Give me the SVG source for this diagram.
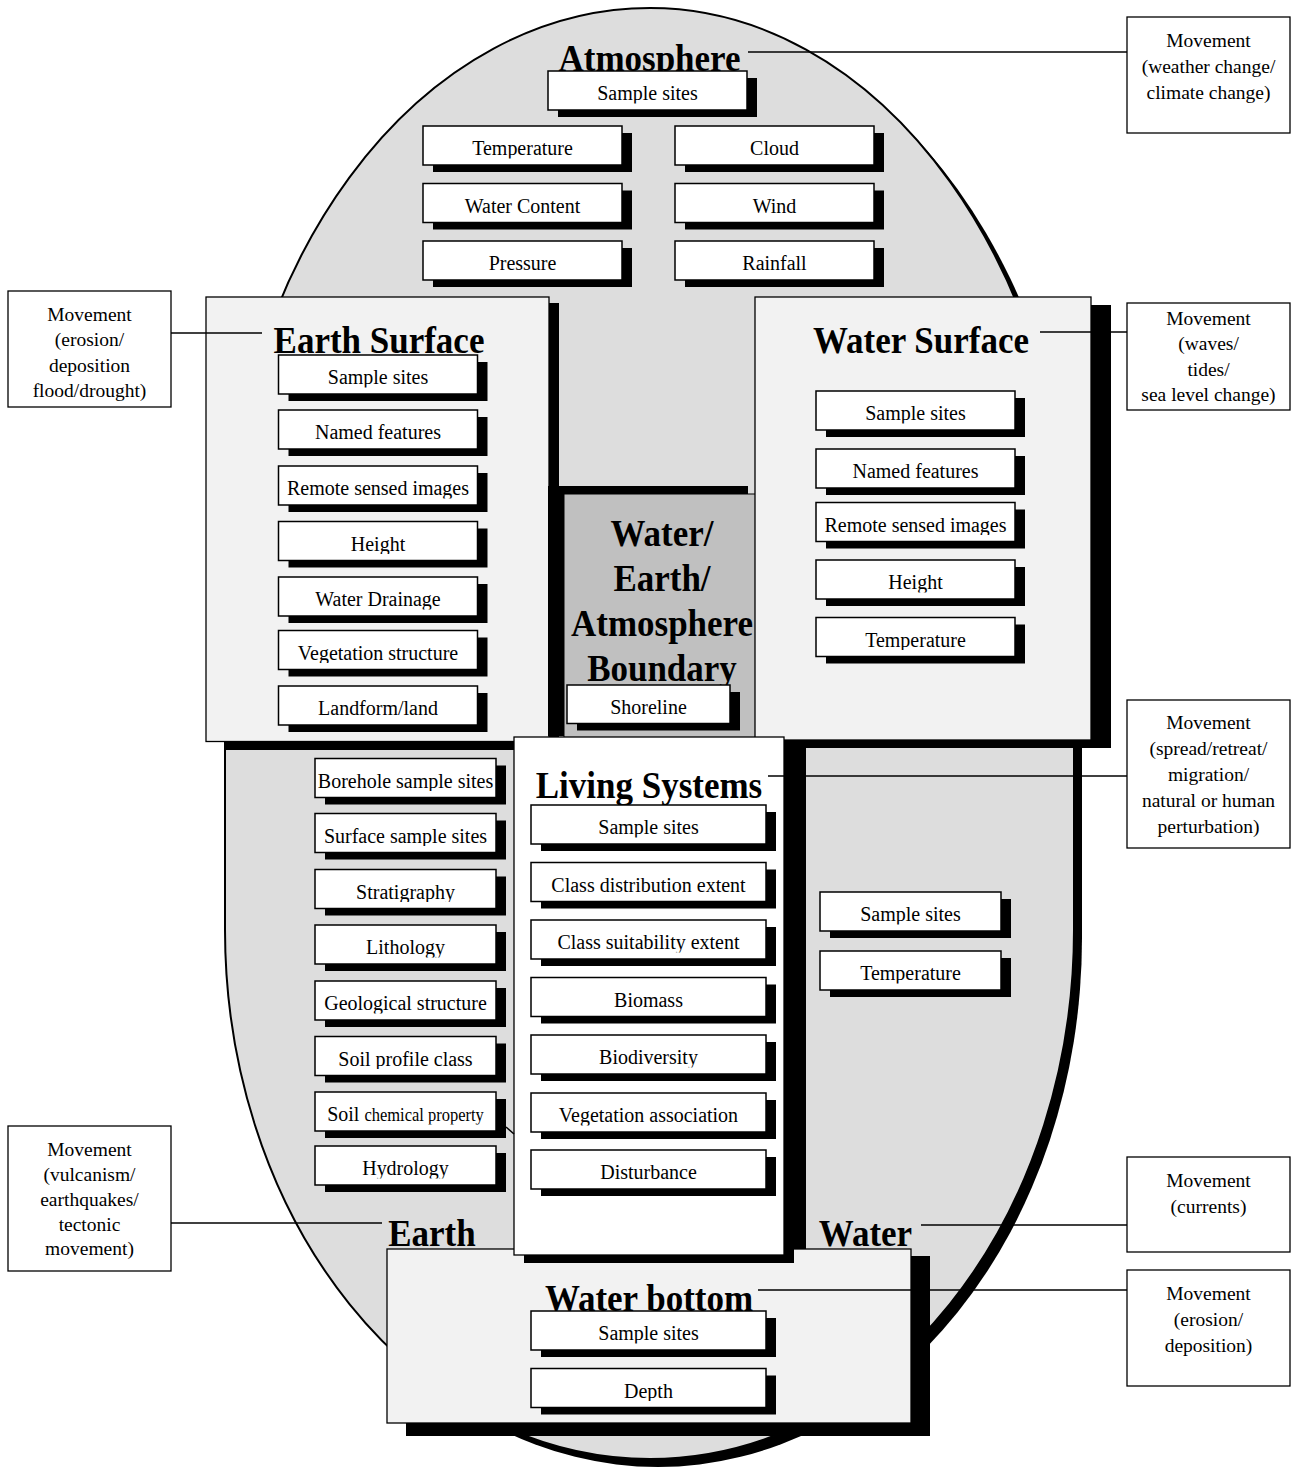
<svg xmlns="http://www.w3.org/2000/svg" xmlns:xlink="http://www.w3.org/1999/xlink" width="1292" height="1472" viewBox="0 0 1292 1472">
<style>
.sh{fill:#000}
.bx{fill:#fff;stroke:#000;stroke-width:1.5}
.pn{fill:#f2f2f2;stroke:#000;stroke-width:1.3}
.mb{fill:#fff;stroke:#000;stroke-width:1.3}
.it{font-family:"Liberation Serif","Times New Roman",serif;font-size:20px;text-anchor:middle;fill:#000;clip-path:url(#cl);transform-box:fill-box;transform-origin:center;transform:translateY(-1.5px) scaleY(1.08)}
.ttl{font-family:"Liberation Serif","Times New Roman",serif;font-weight:bold;font-size:35px;text-anchor:middle;fill:#000;transform-box:fill-box;transform-origin:center;transform:scaleY(1.08)}
.mv{font-family:"Liberation Serif","Times New Roman",serif;font-size:19.5px;text-anchor:middle;fill:#000}
.cn{stroke:#000;stroke-width:1.5;fill:none}
</style>
<defs>
<clipPath id="cl" clipPathUnits="objectBoundingBox"><rect x="-0.2" y="-0.5" width="1.4" height="1.43"/></clipPath>
<path id="ell" d="M650,8 A425,578 0 0 0 225,586 L225,930 A425,529 0 0 0 650,1459 A424,529 0 0 0 1074,930 L1074,600 A424,592 0 0 0 650,8 Z"/>
</defs>

<g id="sphere">
<use xlink:href="#ell" href="#ell" transform="translate(8,8)" fill="#000"/>
<use xlink:href="#ell" href="#ell" fill="#dddddd" stroke="#000" stroke-width="2"/>
<rect x="785" y="740" width="21" height="510" fill="#000"/>
</g>

<g id="atmosphere">
<text class="ttl" x="649.5" y="70">Atmosphere</text>
</g>
<g id="atm-sample"><rect class="sh" x="558" y="78" width="199" height="39"/><rect class="bx" x="548" y="71" width="199" height="39"/><text class="it" x="647.5" y="101">Sample sites</text></g>
<g id="atm-temp"><rect class="sh" x="433" y="133" width="199" height="39"/><rect class="bx" x="423" y="126" width="199" height="39"/><text class="it" x="522.5" y="156">Temperature</text></g>
<g id="atm-cloud"><rect class="sh" x="685" y="133" width="199" height="39"/><rect class="bx" x="675" y="126" width="199" height="39"/><text class="it" x="774.5" y="156">Cloud</text></g>
<g id="atm-water"><rect class="sh" x="433" y="190.5" width="199" height="39"/><rect class="bx" x="423" y="183.5" width="199" height="39"/><text class="it" x="522.5" y="213.5">Water Content</text></g>
<g id="atm-wind"><rect class="sh" x="685" y="190.5" width="199" height="39"/><rect class="bx" x="675" y="183.5" width="199" height="39"/><text class="it" x="774.5" y="213.5">Wind</text></g>
<g id="atm-press"><rect class="sh" x="433" y="248" width="199" height="39"/><rect class="bx" x="423" y="241" width="199" height="39"/><text class="it" x="522.5" y="271">Pressure</text></g>
<g id="atm-rain"><rect class="sh" x="685" y="248" width="199" height="39"/><rect class="bx" x="675" y="241" width="199" height="39"/><text class="it" x="774.5" y="271">Rainfall</text></g>

<g id="earth-surface">
<rect class="sh" x="224" y="303" width="335" height="447"/>
<rect class="pn" x="206" y="297" width="343" height="444.5"/>
<text class="ttl" x="379" y="352">Earth Surface</text>
</g>
<g id="es-sample"><rect class="sh" x="288.5" y="362" width="199" height="39"/><rect class="bx" x="278.5" y="355" width="199" height="39"/><text class="it" x="378" y="385">Sample sites</text></g>
<g id="es-named"><rect class="sh" x="288.5" y="417" width="199" height="39"/><rect class="bx" x="278.5" y="410" width="199" height="39"/><text class="it" x="378" y="440">Named features</text></g>
<g id="es-remote"><rect class="sh" x="288.5" y="473" width="199" height="39"/><rect class="bx" x="278.5" y="466" width="199" height="39"/><text class="it" x="378" y="496">Remote sensed images</text></g>
<g id="es-height"><rect class="sh" x="288.5" y="528.5" width="199" height="39"/><rect class="bx" x="278.5" y="521.5" width="199" height="39"/><text class="it" x="378" y="551.5">Height</text></g>
<g id="es-drain"><rect class="sh" x="288.5" y="584" width="199" height="39"/><rect class="bx" x="278.5" y="577" width="199" height="39"/><text class="it" x="378" y="607">Water Drainage</text></g>
<g id="es-veg"><rect class="sh" x="288.5" y="637.5" width="199" height="39"/><rect class="bx" x="278.5" y="630.5" width="199" height="39"/><text class="it" x="378" y="660.5">Vegetation structure</text></g>
<g id="es-land"><rect class="sh" x="288.5" y="693" width="199" height="39"/><rect class="bx" x="278.5" y="686" width="199" height="39"/><text class="it" x="378" y="716">Landform/land</text></g>

<g id="boundary">
<rect class="sh" x="548" y="486" width="200" height="250"/>
<rect x="564" y="494" width="200" height="250" fill="#c0c0c0" stroke="#000" stroke-width="1"/>
<text class="ttl" x="662" y="545">Water/</text>
<text class="ttl" x="662" y="590">Earth/</text>
<text class="ttl" x="662" y="635">Atmosphere</text>
<text class="ttl" x="662" y="680">Boundary</text>
</g>
<g id="bd-shore"><rect class="sh" x="577" y="692" width="163" height="38.5"/><rect class="bx" x="567" y="685" width="163" height="38.5"/><text class="it" x="648.5" y="715">Shoreline</text></g>

<g id="water-surface">
<rect class="sh" x="775" y="305" width="336" height="443"/>
<rect class="pn" x="755" y="297" width="336" height="443"/>
<text class="ttl" x="921" y="352">Water Surface</text>
</g>
<g id="ws-sample"><rect class="sh" x="826" y="398" width="199" height="39"/><rect class="bx" x="816" y="391" width="199" height="39"/><text class="it" x="915.5" y="421">Sample sites</text></g>
<g id="ws-named"><rect class="sh" x="826" y="456" width="199" height="39"/><rect class="bx" x="816" y="449" width="199" height="39"/><text class="it" x="915.5" y="479">Named features</text></g>
<g id="ws-remote"><rect class="sh" x="826" y="509.5" width="199" height="39"/><rect class="bx" x="816" y="502.5" width="199" height="39"/><text class="it" x="915.5" y="532.5">Remote sensed images</text></g>
<g id="ws-height"><rect class="sh" x="826" y="567" width="199" height="39"/><rect class="bx" x="816" y="560" width="199" height="39"/><text class="it" x="915.5" y="590">Height</text></g>
<g id="ws-temp"><rect class="sh" x="826" y="624.5" width="199" height="39"/><rect class="bx" x="816" y="617.5" width="199" height="39"/><text class="it" x="915.5" y="647.5">Temperature</text></g>

<g id="e-bore"><rect class="sh" x="325" y="765.5" width="181" height="39"/><rect class="bx" x="315" y="758.5" width="181" height="39"/><text class="it" x="405.5" y="788.5">Borehole sample sites</text></g>
<g id="e-surf"><rect class="sh" x="325" y="820.5" width="181" height="39"/><rect class="bx" x="315" y="813.5" width="181" height="39"/><text class="it" x="405.5" y="843.5">Surface sample sites</text></g>
<g id="e-strat"><rect class="sh" x="325" y="876.5" width="181" height="39"/><rect class="bx" x="315" y="869.5" width="181" height="39"/><text class="it" x="405.5" y="899.5">Stratigraphy</text></g>
<g id="e-lith"><rect class="sh" x="325" y="932" width="181" height="39"/><rect class="bx" x="315" y="925" width="181" height="39"/><text class="it" x="405.5" y="955">Lithology</text></g>
<g id="e-geo"><rect class="sh" x="325" y="988" width="181" height="39"/><rect class="bx" x="315" y="981" width="181" height="39"/><text class="it" x="405.5" y="1011">Geological structure</text></g>
<g id="e-soilp"><rect class="sh" x="325" y="1043.5" width="181" height="39"/><rect class="bx" x="315" y="1036.5" width="181" height="39"/><text class="it" x="405.5" y="1066.5">Soil profile class</text></g>
<g id="e-soilc"><rect class="sh" x="325" y="1099" width="181" height="39"/><rect class="bx" x="315" y="1092" width="181" height="39"/><text class="it" x="405.5" y="1122">Soil <tspan font-size="16.5">chemical property</tspan></text></g>
<g id="e-hydro"><rect class="sh" x="325" y="1153" width="181" height="39"/><rect class="bx" x="315" y="1146" width="181" height="39"/><text class="it" x="405.5" y="1176">Hydrology</text></g>

<g id="w-sample"><rect class="sh" x="830" y="899" width="181" height="39"/><rect class="bx" x="820" y="892" width="181" height="39"/><text class="it" x="910.5" y="922">Sample sites</text></g>
<g id="w-temp"><rect class="sh" x="830" y="958" width="181" height="39"/><rect class="bx" x="820" y="951" width="181" height="39"/><text class="it" x="910.5" y="981">Temperature</text></g>

<g id="water-bottom">
<rect class="sh" x="406" y="1256" width="524" height="180"/>
<rect class="pn" x="387" y="1249" width="524" height="174"/>
<text class="ttl" x="649" y="1310">Water bottom</text>
</g>
<g id="wb-sample"><rect class="sh" x="541" y="1318" width="235" height="39"/><rect class="bx" x="531" y="1311" width="235" height="39"/><text class="it" x="648.5" y="1341">Sample sites</text></g>
<g id="wb-depth"><rect class="sh" x="541" y="1375.5" width="235" height="39"/><rect class="bx" x="531" y="1368.5" width="235" height="39"/><text class="it" x="648.5" y="1398.5">Depth</text></g>

<g id="living-systems">
<rect class="sh" x="524" y="745" width="270" height="518"/>
<rect x="514" y="737" width="270" height="518" fill="#fff" stroke="#000" stroke-width="1.3"/>
<text class="ttl" x="649" y="797">Living Systems</text>
</g>
<g id="ls-sample"><rect class="sh" x="541" y="812" width="235" height="39"/><rect class="bx" x="531" y="805" width="235" height="39"/><text class="it" x="648.5" y="835">Sample sites</text></g>
<g id="ls-dist"><rect class="sh" x="541" y="869.5" width="235" height="39"/><rect class="bx" x="531" y="862.5" width="235" height="39"/><text class="it" x="648.5" y="892.5">Class distribution extent</text></g>
<g id="ls-suit"><rect class="sh" x="541" y="927" width="235" height="39"/><rect class="bx" x="531" y="920" width="235" height="39"/><text class="it" x="648.5" y="950">Class suitability extent</text></g>
<g id="ls-bio"><rect class="sh" x="541" y="984.5" width="235" height="39"/><rect class="bx" x="531" y="977.5" width="235" height="39"/><text class="it" x="648.5" y="1007.5">Biomass</text></g>
<g id="ls-div"><rect class="sh" x="541" y="1042" width="235" height="39"/><rect class="bx" x="531" y="1035" width="235" height="39"/><text class="it" x="648.5" y="1065">Biodiversity</text></g>
<g id="ls-veg"><rect class="sh" x="541" y="1100" width="235" height="39"/><rect class="bx" x="531" y="1093" width="235" height="39"/><text class="it" x="648.5" y="1123">Vegetation association</text></g>
<g id="ls-dist2"><rect class="sh" x="541" y="1157" width="235" height="39"/><rect class="bx" x="531" y="1150" width="235" height="39"/><text class="it" x="648.5" y="1180">Disturbance</text></g>

<g id="earth"><text class="ttl" x="432" y="1245">Earth</text></g>
<g id="water"><text class="ttl" x="865.5" y="1245">Water</text></g>

<g id="mv-weather"><rect class="mb" x="1127" y="17" width="163" height="116"/><text class="mv" x="1208.5" y="47">Movement</text><text class="mv" x="1208.5" y="73">(weather change/</text><text class="mv" x="1208.5" y="99">climate change)</text></g>
<g id="mv-waves"><rect class="mb" x="1127" y="303" width="163" height="107"/><text class="mv" x="1208.5" y="325">Movement</text><text class="mv" x="1208.5" y="350">(waves/</text><text class="mv" x="1208.5" y="375.5">tides/</text><text class="mv" x="1208.5" y="401">sea level change)</text></g>
<g id="mv-spread"><rect class="mb" x="1127" y="700" width="163" height="148"/><text class="mv" x="1208.5" y="729">Movement</text><text class="mv" x="1208.5" y="755">(spread/retreat/</text><text class="mv" x="1208.5" y="781">migration/</text><text class="mv" x="1208.5" y="807">natural or human</text><text class="mv" x="1208.5" y="833">perturbation)</text></g>
<g id="mv-currents"><rect class="mb" x="1127" y="1157" width="163" height="95"/><text class="mv" x="1208.5" y="1187">Movement</text><text class="mv" x="1208.5" y="1213">(currents)</text></g>
<g id="mv-erosion2"><rect class="mb" x="1127" y="1270" width="163" height="116"/><text class="mv" x="1208.5" y="1300">Movement</text><text class="mv" x="1208.5" y="1326">(erosion/</text><text class="mv" x="1208.5" y="1352">deposition)</text></g>
<g id="mv-erosion"><rect class="mb" x="8" y="291" width="163" height="116"/><text class="mv" x="89.5" y="321">Movement</text><text class="mv" x="89.5" y="346">(erosion/</text><text class="mv" x="89.5" y="372">deposition</text><text class="mv" x="89.5" y="397">flood/drought)</text></g>
<g id="mv-tectonic"><rect class="mb" x="8" y="1126" width="163" height="145"/><text class="mv" x="89.5" y="1156">Movement</text><text class="mv" x="89.5" y="1181">(vulcanism/</text><text class="mv" x="89.5" y="1206">earthquakes/</text><text class="mv" x="89.5" y="1231">tectonic</text><text class="mv" x="89.5" y="1255">movement)</text></g>

<g id="connectors">
<line class="cn" x1="748" y1="52" x2="1127" y2="52"/>
<line class="cn" x1="171" y1="333" x2="262" y2="333"/>
<line class="cn" x1="1040" y1="332" x2="1127" y2="332"/>
<line class="cn" x1="768" y1="776" x2="1127" y2="776"/>
<line class="cn" x1="171" y1="1223" x2="382" y2="1223"/>
<line class="cn" x1="921" y1="1225" x2="1127" y2="1225"/>
<line class="cn" x1="758" y1="1290" x2="1127" y2="1290"/>
<line class="cn" x1="506" y1="1127" x2="514" y2="1134"/>
</g>
</svg>
